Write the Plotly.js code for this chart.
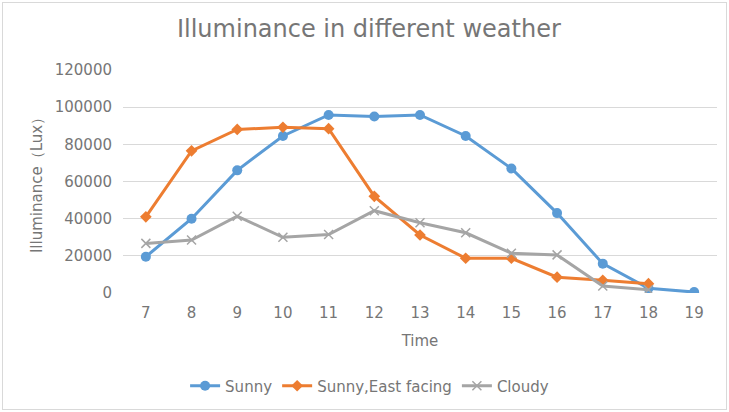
<!DOCTYPE html>
<html>
<head>
<meta charset="utf-8">
<script src="https://cdn.plot.ly/plotly-3.0.1.min.js"></script>
<style>
html,body{margin:0;padding:0;background:#fff;}
#frame{position:absolute;left:2px;top:2px;width:723px;height:406px;border:1px solid #d9d9d9;}
#chart{position:absolute;left:0;top:0;width:729px;height:412px;}
</style>
</head>
<body>
<div id="frame"></div>
<div id="chart"></div>
<script>
const hours = ["7","8","9","10","11","12","13","14","15","16","17","18","19"];
const sunny = [19500, 40000, 66000, 84500, 95800, 95000, 95800, 84500, 67000, 43000, 15800, 2500, 500];
const sunnyEast = [41000, 76500, 88000, 89200, 88400, 52000, 31200, 18700, 18700, 8500, 6800, 5000];
const cloudy = [26700, 28500, 41300, 30000, 31500, 44300, 37800, 32400, 21400, 20500, 3800, 1800];
const yTicks = [0, 20000, 40000, 60000, 80000, 100000, 120000];

const gray = '#767676';
const font = 'DejaVu Sans, sans-serif';

const traces = [
  {x: hours, y: sunny, name: 'Sunny', type: 'scatter', mode: 'lines+markers',
   line: {color: '#5b9bd5', width: 3}, marker: {symbol: 'circle', size: 10, color: '#5b9bd5'}},
  {x: hours.slice(0, sunnyEast.length), y: sunnyEast, name: 'Sunny,East facing', type: 'scatter', mode: 'lines+markers',
   line: {color: '#ed7d31', width: 3}, marker: {symbol: 'diamond', size: 9, color: '#ed7d31'}},
  {x: hours.slice(0, cloudy.length), y: cloudy, name: 'Cloudy', type: 'scatter', mode: 'lines+markers',
   line: {color: '#a5a5a5', width: 3}, marker: {symbol: 'x-thin', size: 9, line: {color: '#a5a5a5', width: 1.5}}}
];

const layout = {
  width: 729, height: 412,
  paper_bgcolor: 'rgba(0,0,0,0)', plot_bgcolor: 'rgba(0,0,0,0)',
  margin: {l: 123, r: 12, t: 70, b: 119},
  font: {family: font, color: gray, size: 15},
  title: {text: 'Illuminance in different weather', font: {family: font, size: 24, color: gray},
          x: 0.506, xanchor: 'center', xref: 'container', y: 1 - 29/412, yanchor: 'middle', yref: 'container'},
  xaxis: {type: 'category', range: [-0.5, 12.5], showgrid: false, zeroline: false, showline: false,
          ticks: '', tickfont: {size: 15, color: gray}, ticklabelstandoff: 9,
          title: {text: 'Time', font: {size: 15, color: gray}, standoff: 14}},
  yaxis: {range: [0, 120000], tickvals: yTicks, ticktext: yTicks.map(String), showgrid: true, gridcolor: '#d9d9d9', gridwidth: 1,
          zeroline: false, showline: false, ticks: '', tickfont: {size: 15, color: gray}, ticklabelstandoff: 10,
          title: {text: 'Illuminance（Lux）', font: {size: 15, color: gray}, standoff: 8}},
  showlegend: true,
  legend: {orientation: 'h', xref: 'container', yref: 'container', x: 0.507, xanchor: 'center', y: 1 - 386/412, yanchor: 'middle',
           font: {size: 15, color: gray}, itemwidth: 30, tracegroupgap: 0}
};

Plotly.newPlot('chart', traces, layout, {displayModeBar: false, staticPlot: true});
</script>
</body>
</html>
